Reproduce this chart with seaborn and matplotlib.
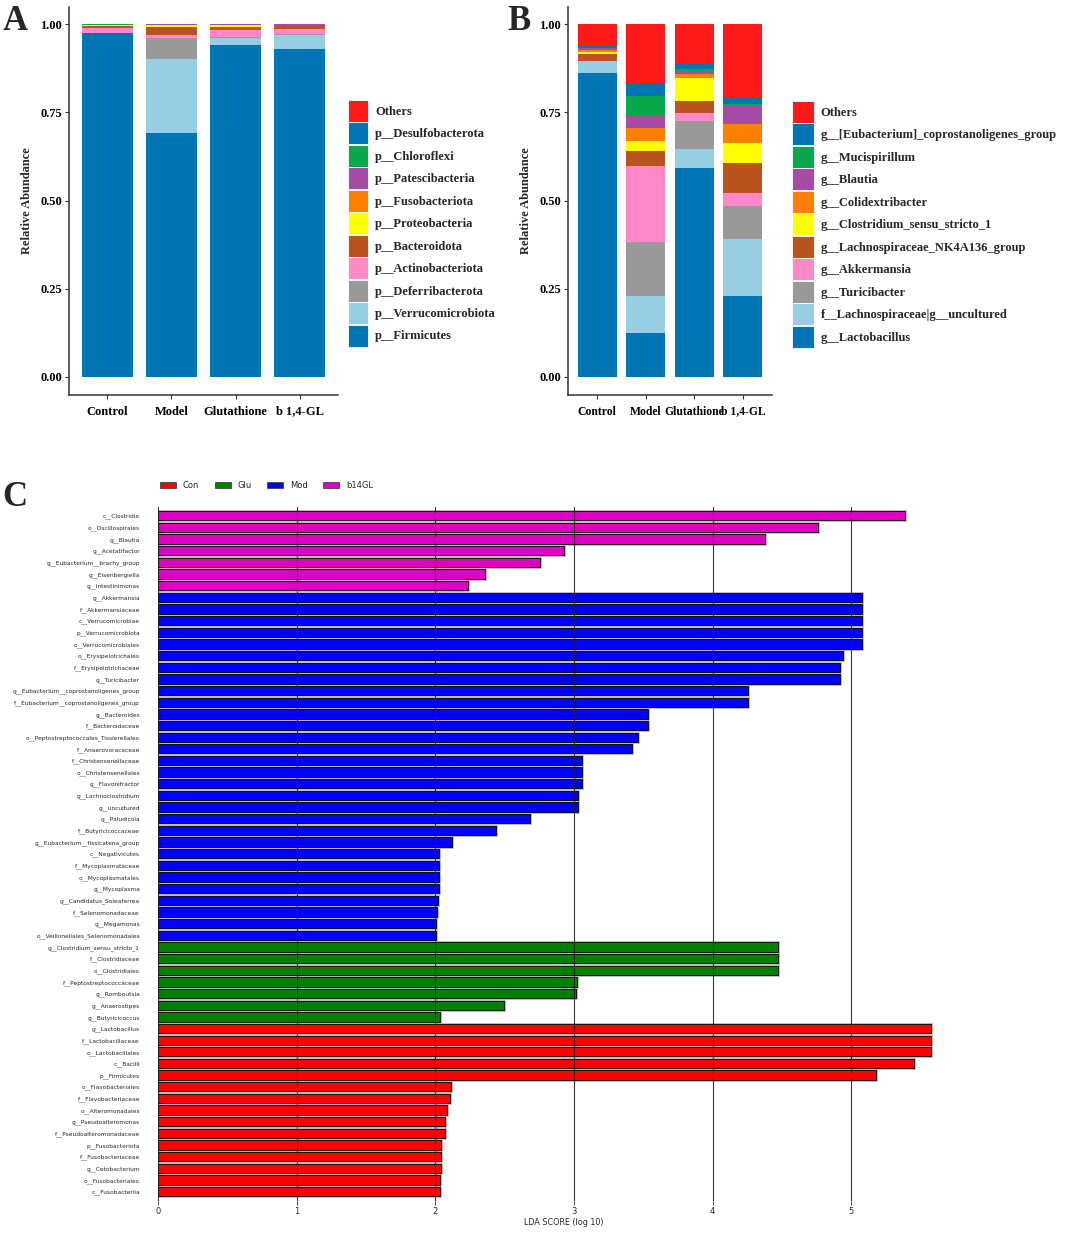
import numpy as np
import pandas as pd
import matplotlib
matplotlib.use("Agg")
import matplotlib.pyplot as plt
from matplotlib.patches import Patch
import seaborn as sns

# ---------------- data ----------------
groups = ["Control", "Model", "Glutathione", "b 1,4-GL"]

phylum_labels = ["Others", "p__Desulfobacterota", "p__Chloroflexi", "p__Patescibacteria",
                 "p__Fusobacteriota", "p__Proteobacteria", "p__Bacteroidota",
                 "p__Actinobacteriota", "p__Deferribacterota", "p__Verrucomicrobiota",
                 "p__Firmicutes"]
phylum_control = [0.0005, 0.0005, 0.0002, 0.0003, 0.0005, 0.003, 0.005, 0.014, 0.0003, 0.0007, 0.975]
phylum_model = [0.0005, 0.0003, 0.0002, 0.0005, 0.0005, 0.005, 0.024, 0.009, 0.058, 0.212, 0.690]
phylum_glutathione = [0.0005, 0.0003, 0.0002, 0.0005, 0.0005, 0.007, 0.008, 0.020, 0.001, 0.020, 0.942]
phylum_b14gl = [0.0003, 0.0004, 0.0002, 0.0003, 0.0003, 0.0005, 0.011, 0.014, 0.004, 0.040, 0.929]

genus_labels = ["Others", "g__[Eubacterium]_coprostanoligenes_group", "g__Mucispirillum",
                "g__Blautia", "g__Colidextribacter", "g__Clostridium_sensu_stricto_1",
                "g__Lachnospiraceae_NK4A136_group", "g__Akkermansia", "g__Turicibacter",
                "f__Lachnospiraceae|g__uncultured", "g__Lactobacillus"]
genus_control = [0.063, 0.004, 0.002, 0.005, 0.004, 0.006, 0.020, 0.0005, 0.0005, 0.034, 0.861]
genus_model = [0.166, 0.038, 0.056, 0.034, 0.038, 0.027, 0.043, 0.215, 0.154, 0.105, 0.124]
genus_glutathione = [0.114, 0.013, 0.005, 0.009, 0.013, 0.064, 0.035, 0.021, 0.080, 0.055, 0.591]
genus_b14gl = [0.208, 0.017, 0.004, 0.054, 0.053, 0.057, 0.086, 0.038, 0.092, 0.162, 0.229]

stack_colors = ["#FF1A1A", "#0075B4", "#0AA84C", "#A64CA6", "#FF7F00", "#FFFF00",
                "#B9541F", "#FF88C8", "#999999", "#97CEE2", "#0075B4"]

lda_features = [
    "c__Clostridia", "o__Oscillospirales", "g__Blautia", "g__Acetatifactor",
    "g__Eubacterium__brachy_group", "g__Eisenbergiella", "g__Intestinimonas",
    "g__Akkermansia", "f__Akkermansiaceae", "c__Verrucomicrobiae", "p__Verrucomicrobiota",
    "o__Verrucomicrobiales", "o__Erysipelotrichales", "f__Erysipelotrichaceae", "g__Turicibacter",
    "g__Eubacterium__coprostanoligenes_group", "f__Eubacterium__coprostanoligenes_group",
    "g__Bacteroides", "f__Bacteroidaceae", "o__Peptostreptococcales_Tissierellales",
    "f__Anaerovoracaceae", "f__Christensenellaceae", "o__Christensenellales", "g__Flavonifractor",
    "g__Lachnoclostridium", "g__uncultured", "g__Paludicola", "f__Butyricicoccaceae",
    "g__Eubacterium__fissicatena_group", "c__Negativicutes", "f__Mycoplasmataceae",
    "o__Mycoplasmatales", "g__Mycoplasma", "g__Candidatus_Soleaferrea", "f__Selenomonadaceae",
    "g__Megamonas", "o__Veillonellales_Selenomonadales",
    "g__Clostridium_sensu_stricto_1", "f__Clostridiaceae", "o__Clostridiales",
    "f__Peptostreptococcaceae", "g__Romboutsia", "g__Anaerostipes", "g__Butyricicoccus",
    "g__Lactobacillus", "f__Lactobacillaceae", "o__Lactobacillales", "c__Bacilli", "p__Firmicutes",
    "o__Flavobacteriales", "f__Flavobacteriaceae", "o__Alteromonadales", "g__Pseudoalteromonas",
    "f__Pseudoalteromonadaceae", "p__Fusobacteriota", "f__Fusobacteriaceae", "g__Cetobacterium",
    "o__Fusobacteriales", "c__Fusobacteriia"]
lda_scores = [
    5.387, 4.760, 4.377, 2.930, 2.755, 2.358, 2.233,
    5.075, 5.075, 5.075, 5.075, 5.075, 4.940, 4.918, 4.916,
    4.257, 4.257, 3.534, 3.536, 3.459, 3.421, 3.055, 3.055, 3.055,
    3.031, 3.029, 2.685, 2.435, 2.118, 2.030, 2.025, 2.025, 2.025, 2.020, 2.010, 2.005, 2.005,
    4.472, 4.472, 4.472, 3.022, 3.017, 2.492, 2.033,
    5.577, 5.577, 5.577, 5.453, 5.180, 2.111, 2.108, 2.082, 2.072, 2.072,
    2.044, 2.041, 2.039, 2.033, 2.033]
lda_groups = ["b14GL"] * 7 + ["Mod"] * 30 + ["Glu"] * 7 + ["Con"] * 15

lda_class_order = ["Con", "Glu", "Mod", "b14GL"]
lda_colors = ["#FF0000", "#008000", "#0000FF", "#E000C4"]

# ---------------- figure ----------------
W, H = 1065, 1234
sns.set_theme(style="ticks")
plt.rcParams["font.family"] = ["DejaVu Sans"]
fig = plt.figure(figsize=(W / 100, H / 100), dpi=100)

serif = {"family": "Liberation Serif", "weight": "bold"}


def fx(px):
    return px / W


def fy(py):
    return 1 - py / H


def long_df(labels, cols):
    rows = []
    for g, vals in zip(groups, cols):
        for lab, v in zip(labels, vals):
            rows.append((g, lab, v))
    return pd.DataFrame(rows, columns=["group", "taxon", "value"])


def stacked_panel(rect, labels, cols, legend_xy, legend_hl, xfs):
    ax = fig.add_axes(rect)
    df = long_df(labels, cols)
    pal = dict(zip(labels, stack_colors))
    sns.histplot(data=df, x="group", hue="taxon", weights="value", hue_order=labels,
                 palette=pal, multiple="stack", discrete=True, shrink=0.8, alpha=1,
                 linewidth=0, legend=False, ax=ax)
    ax.set_xlim(-0.6, 3.6)
    ax.set_ylim(-0.05, 1.05)
    ax.set_xticks(range(len(groups)))
    ax.set_xticklabels(groups, fontsize=xfs, **serif)
    ax.set_yticks([0, 0.25, 0.5, 0.75, 1.0])
    ax.set_yticklabels(["0.00", "0.25", "0.50", "0.75", "1.00"], fontsize=9, **serif)
    ax.set_xlabel("")
    ax.set_ylabel("Relative Abundance", fontsize=9, labelpad=5, **serif)
    sns.despine(ax=ax)
    for s in ["left", "bottom"]:
        ax.spines[s].set_color("#333333")
        ax.spines[s].set_linewidth(1.1)
    ax.tick_params(axis="both", length=3, width=0.8, color="#333333", pad=2, labelcolor="black")
    ax.tick_params(axis="x", pad=5)
    handles = [Patch(facecolor=c, edgecolor="white", linewidth=0.6) for c in stack_colors]
    fig.legend(handles, labels, loc="upper left", bbox_to_anchor=legend_xy,
               bbox_transform=fig.transFigure, frameon=False,
               prop={"family": "Liberation Serif", "weight": "bold", "size": 9},
               handlelength=legend_hl, handleheight=2.33, labelspacing=0.04,
               handletextpad=0.55, borderpad=0, borderaxespad=0)
    return ax


axA = stacked_panel([fx(69), fy(394.5), fx(338) - fx(69), 388 / H], phylum_labels,
                    [phylum_control, phylum_model, phylum_glutathione, phylum_b14gl],
                    (fx(348), fy(99.7)), 1.6, 9)
axB = stacked_panel([fx(568), fy(394.5), fx(772) - fx(568), 388 / H], genus_labels,
                    [genus_control, genus_model, genus_glutathione, genus_b14gl],
                    (fx(792), fy(101)), 1.73, 8.4)

# ---------------- panel C: LDA ----------------
axC = fig.add_axes([fx(158), fy(1201), fx(970) - fx(158), 694 / H])
dfc = pd.DataFrame({"feature": lda_features, "score": lda_scores, "group": lda_groups})
cpal = dict(zip(lda_class_order, lda_colors))
sns.barplot(data=dfc, x="score", y="feature", hue="group", hue_order=lda_class_order,
            palette=cpal, dodge=False, orient="h", width=0.8, saturation=1,
            edgecolor="#b5b5b5", linewidth=2.0, legend=False, ax=axC)
sns.barplot(data=dfc, x="score", y="feature", hue="group", hue_order=lda_class_order,
            palette=cpal, dodge=False, orient="h", width=0.8, saturation=1,
            edgecolor="black", linewidth=0.6, legend=False, ax=axC)
axC.set_xlim(0, 5.856)
axC.set_ylim(len(lda_features) - 0.2, -0.75)
axC.set_xticks(range(6))
axC.set_xticklabels([str(i) for i in range(6)], fontsize=6)
axC.tick_params(axis="x", length=3, width=0.6, pad=1.5)
axC.tick_params(axis="y", length=0, pad=13, labelsize=4.25)
axC.set_ylabel("")
axC.set_xlabel("LDA SCORE (log 10)", fontsize=5.8, labelpad=1)
for s in axC.spines.values():
    s.set_visible(False)
axC.set_axisbelow(False)
axC.grid(axis="x", color="#222222", linewidth=0.8, alpha=0.9)
axC.grid(axis="y", visible=False)

c_handles = [Patch(facecolor=c, edgecolor="#444444", linewidth=0.6) for c in lda_colors]
fig.legend(c_handles, lda_class_order, loc="center left", bbox_to_anchor=(fx(160), fy(485)),
           bbox_transform=fig.transFigure, frameon=False, ncol=4, fontsize=6,
           handlelength=1.9, handleheight=0.75, handletextpad=0.8, columnspacing=1.9,
           borderpad=0, borderaxespad=0)

# ---------------- panel letters ----------------
for letter, x, y in [("A", 3, 30), ("B", 507, 30), ("C", 2, 506)]:
    fig.text(fx(x), fy(y), letter, fontsize=25, va="baseline", ha="left",
             family="Liberation Serif", weight="bold")

fig.savefig("out.png", dpi=100)
